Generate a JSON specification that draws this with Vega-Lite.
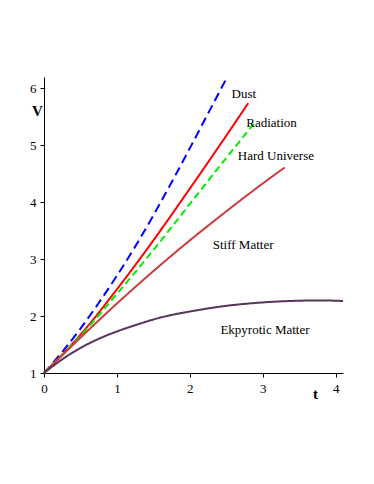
{
  "$schema": "https://vega.github.io/schema/vega-lite/v6.json",
  "width": 299,
  "height": 296,
  "autosize": "none",
  "padding": {"left": 44, "top": 77, "right": 31, "bottom": 111},
  "background": "white",
  "config": {
    "view": {"stroke": null},
    "axis": {
      "labelFont": "Liberation Serif",
      "labelFontSize": 13,
      "labelColor": "black",
      "domainColor": "black",
      "tickColor": "black",
      "grid": false,
      "titleFont": "Liberation Serif",
      "titleFontSize": 15,
      "titleFontWeight": "bold",
      "titleColor": "black",
      "tickSize": 4
    }
  },
  "datasets": {
    "curves": [
      {"series": "Dust", "t": 0, "V": 1},
      {"series": "Dust", "t": 0.25, "V": 1.37},
      {"series": "Dust", "t": 0.5, "V": 1.78},
      {"series": "Dust", "t": 0.75, "V": 2.23},
      {"series": "Dust", "t": 1, "V": 2.71},
      {"series": "Dust", "t": 1.25, "V": 3.22},
      {"series": "Dust", "t": 1.5, "V": 3.77},
      {"series": "Dust", "t": 1.75, "V": 4.35},
      {"series": "Dust", "t": 2, "V": 4.95},
      {"series": "Dust", "t": 2.25, "V": 5.56},
      {"series": "Dust", "t": 2.5, "V": 6.17},
      {"series": "Radiation", "t": 0, "V": 1},
      {"series": "Radiation", "t": 0.5, "V": 1.67},
      {"series": "Radiation", "t": 1, "V": 2.47},
      {"series": "Radiation", "t": 1.5, "V": 3.33},
      {"series": "Radiation", "t": 2, "V": 4.24},
      {"series": "Radiation", "t": 2.5, "V": 5.17},
      {"series": "Radiation", "t": 2.8, "V": 5.74},
      {"series": "Hard Universe", "t": 0, "V": 1},
      {"series": "Hard Universe", "t": 0.5, "V": 1.65},
      {"series": "Hard Universe", "t": 1, "V": 2.39},
      {"series": "Hard Universe", "t": 1.5, "V": 3.16},
      {"series": "Hard Universe", "t": 2, "V": 3.97},
      {"series": "Hard Universe", "t": 2.5, "V": 4.78},
      {"series": "Hard Universe", "t": 2.89, "V": 5.4},
      {"series": "Stiff Matter", "t": 0, "V": 1},
      {"series": "Stiff Matter", "t": 0.5, "V": 1.62},
      {"series": "Stiff Matter", "t": 1, "V": 2.22},
      {"series": "Stiff Matter", "t": 1.5, "V": 2.79},
      {"series": "Stiff Matter", "t": 2, "V": 3.33},
      {"series": "Stiff Matter", "t": 2.5, "V": 3.84},
      {"series": "Stiff Matter", "t": 3, "V": 4.33},
      {"series": "Stiff Matter", "t": 3.3, "V": 4.61},
      {"series": "Ekpyrotic Matter", "t": 0, "V": 1},
      {"series": "Ekpyrotic Matter", "t": 0.25, "V": 1.24},
      {"series": "Ekpyrotic Matter", "t": 0.5, "V": 1.44},
      {"series": "Ekpyrotic Matter", "t": 0.75, "V": 1.6},
      {"series": "Ekpyrotic Matter", "t": 1, "V": 1.73},
      {"series": "Ekpyrotic Matter", "t": 1.25, "V": 1.84},
      {"series": "Ekpyrotic Matter", "t": 1.5, "V": 1.94},
      {"series": "Ekpyrotic Matter", "t": 1.75, "V": 2.02},
      {"series": "Ekpyrotic Matter", "t": 2, "V": 2.08},
      {"series": "Ekpyrotic Matter", "t": 2.5, "V": 2.18},
      {"series": "Ekpyrotic Matter", "t": 3, "V": 2.24},
      {"series": "Ekpyrotic Matter", "t": 3.5, "V": 2.27},
      {"series": "Ekpyrotic Matter", "t": 3.8, "V": 2.275},
      {"series": "Ekpyrotic Matter", "t": 4.1, "V": 2.265}
    ],
    "labels": [
      {"label": "Dust", "t": 2.74, "V": 5.91},
      {"label": "Radiation", "t": 3.12, "V": 5.4},
      {"label": "Hard Universe", "t": 3.18, "V": 4.81},
      {"label": "Stiff Matter", "t": 2.73, "V": 3.25},
      {"label": "Ekpyrotic Matter", "t": 3.03, "V": 1.75}
    ]
  },
  "layer": [
    {
      "data": {"name": "curves"},
      "mark": {"type": "line", "strokeWidth": 2, "interpolate": "monotone"},
      "encoding": {
        "x": {
          "field": "t", "type": "quantitative",
          "scale": {"domain": [0, 4.1], "nice": false, "zero": false},
          "axis": {
            "values": [0, 0.5, 1, 1.5, 2, 2.5, 3, 3.5, 4],
            "labelExpr": "datum.value % 1 === 0 ? format(datum.value, 'd') : ''",
            "labelPadding": 5,
            "labelFlush": false,
            "title": "t",
            "titleX": 271,
            "titleY": 20,
            "titleAlign": "center",
            "titleBaseline": "middle"
          }
        },
        "y": {
          "field": "V", "type": "quantitative",
          "scale": {"domain": [1, 6.2], "nice": false, "zero": false},
          "axis": {
            "values": [1, 1.5, 2, 2.5, 3, 3.5, 4, 4.5, 5, 5.5, 6],
            "labelExpr": "datum.value % 1 === 0 ? format(datum.value, 'd') : ''",
            "labelPadding": 4,
            "labelFlush": false,
            "title": "V",
            "titleAngle": 0,
            "titleX": -7,
            "titleY": 33,
            "titleAlign": "center",
            "titleBaseline": "middle"
          }
        },
        "color": {
          "field": "series", "type": "nominal",
          "scale": {
            "domain": ["Dust", "Radiation", "Hard Universe", "Stiff Matter", "Ekpyrotic Matter"],
            "range": ["#0000ff", "#ff0000", "#00ee00", "#cd3c3c", "#573459"]
          },
          "legend": null
        },
        "strokeDash": {
          "field": "series", "type": "nominal",
          "scale": {
            "domain": ["Dust", "Radiation", "Hard Universe", "Stiff Matter", "Ekpyrotic Matter"],
            "range": [[9, 5], [1, 0], [7, 4], [1, 0], [1, 0]]
          },
          "legend": null
        }
      }
    },
    {
      "data": {"name": "labels"},
      "mark": {"type": "text", "font": "Liberation Serif", "fontSize": 13, "color": "black", "align": "center", "baseline": "middle"},
      "encoding": {
        "x": {"field": "t", "type": "quantitative"},
        "y": {"field": "V", "type": "quantitative"},
        "text": {"field": "label"}
      }
    }
  ]
}
